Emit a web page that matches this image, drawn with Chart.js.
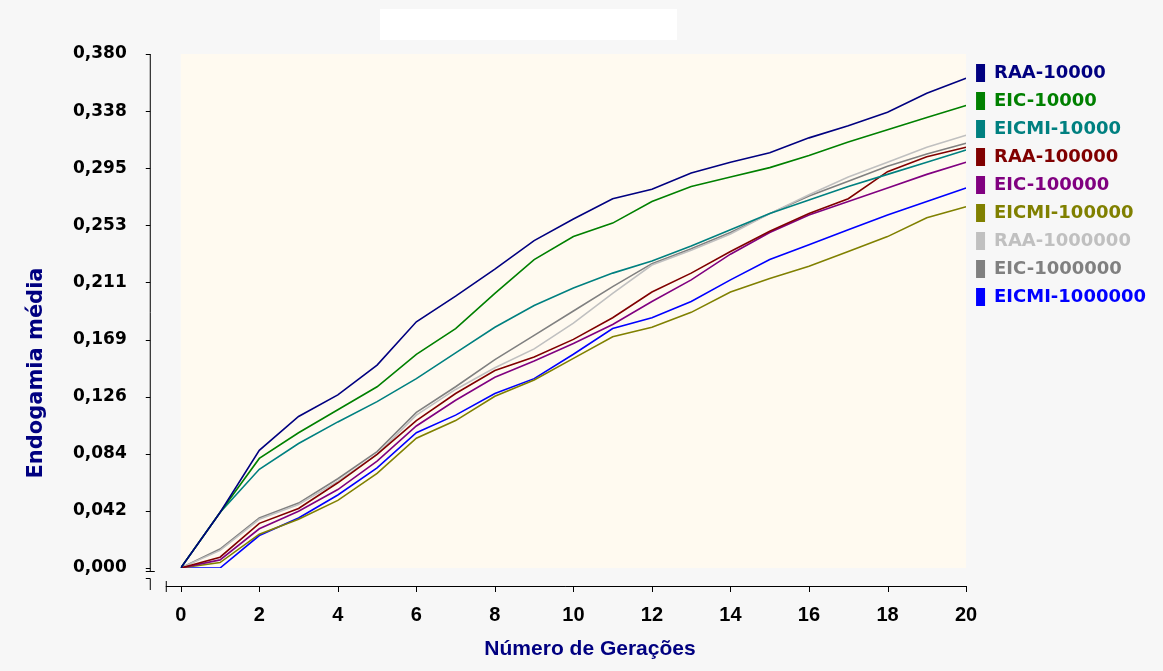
<!DOCTYPE html>
<html>
<head>
<meta charset="utf-8">
<script src="https://cdn.jsdelivr.net/npm/chart.js@4/dist/chart.umd.min.js"></script>
<style>
  body { margin: 0; background: #f7f7f7; }
  #grafico { display: block; }
</style>
</head>
<body>
<canvas id="grafico" width="1163" height="671"></canvas>
<script>
// dados
var geracoes = [0, 1, 2, 3, 4, 5, 6, 7, 8, 9, 10, 11, 12, 13, 14, 15, 16, 17, 18, 19, 20];

var raa10000 = [0, 0.041, 0.087, 0.112, 0.128, 0.150, 0.182, 0.201, 0.221, 0.242, 0.258, 0.273, 0.280, 0.292, 0.300, 0.307, 0.318, 0.327, 0.337, 0.351, 0.362];
var eic10000 = [0, 0.041, 0.081, 0.100, 0.117, 0.134, 0.158, 0.177, 0.203, 0.228, 0.245, 0.255, 0.271, 0.282, 0.289, 0.296, 0.305, 0.315, 0.324, 0.333, 0.342];
var eicmi10000 = [0, 0.041, 0.073, 0.092, 0.108, 0.123, 0.140, 0.159, 0.178, 0.194, 0.207, 0.218, 0.227, 0.238, 0.250, 0.262, 0.272, 0.282, 0.291, 0.300, 0.309];
var raa100000 = [0, 0.008, 0.033, 0.044, 0.063, 0.084, 0.109, 0.129, 0.146, 0.156, 0.169, 0.185, 0.204, 0.218, 0.234, 0.249, 0.262, 0.273, 0.293, 0.304, 0.311];
var eic100000 = [0, 0.006, 0.029, 0.042, 0.058, 0.079, 0.105, 0.124, 0.141, 0.153, 0.166, 0.180, 0.197, 0.213, 0.232, 0.248, 0.261, 0.271, 0.281, 0.291, 0.300];
var eicmi100000 = [0, 0.004, 0.025, 0.036, 0.050, 0.070, 0.096, 0.109, 0.127, 0.139, 0.155, 0.171, 0.178, 0.189, 0.204, 0.214, 0.223, 0.234, 0.245, 0.259, 0.267];
var raa1000000 = [0, 0.013, 0.036, 0.047, 0.064, 0.084, 0.113, 0.132, 0.148, 0.162, 0.181, 0.203, 0.224, 0.235, 0.247, 0.262, 0.276, 0.289, 0.300, 0.311, 0.320];
var eic1000000 = [0, 0.014, 0.037, 0.048, 0.066, 0.086, 0.115, 0.134, 0.154, 0.172, 0.190, 0.208, 0.225, 0.236, 0.248, 0.262, 0.275, 0.286, 0.297, 0.306, 0.314];
var eicmi1000000 = [0, 0, 0.024, 0.037, 0.054, 0.074, 0.100, 0.113, 0.129, 0.140, 0.158, 0.177, 0.185, 0.197, 0.213, 0.228, 0.239, 0.250, 0.261, 0.271, 0.281];

var nomesSeries = ["RAA-10000", "EIC-10000", "EICMI-10000", "RAA-100000", "EIC-100000", "EICMI-100000", "RAA-1000000", "EIC-1000000", "EICMI-1000000"];
var valoresSeries = [raa10000, eic10000, eicmi10000, raa100000, eic100000, eicmi100000, raa1000000, eic1000000, eicmi1000000];
var coresSeries = ["#000080", "#008000", "#008080", "#800000", "#800080", "#808000", "#c0c0c0", "#808080", "#0000ff"];

var yTickValores = [0, 0.0422, 0.0844, 0.1267, 0.1689, 0.2111, 0.2533, 0.2956, 0.3378, 0.38];
var yTickTextos = ["0,000", "0,042", "0,084", "0,126", "0,169", "0,211", "0,253", "0,295", "0,338", "0,380"];

var tituloX = "Número de Gerações";
var tituloY = "Endogamia média";

var datasets = valoresSeries.map(function (vals, i) {
  return {
    label: nomesSeries[i],
    data: vals.map(function (v, j) { return { x: geracoes[j], y: v }; }),
    borderColor: coresSeries[i],
    backgroundColor: coresSeries[i],
    borderWidth: 1.6,
    pointRadius: 0,
    tension: 0
  };
});

// fundo creme, eixos destacados e titulos
var extras = {
  id: "extras",
  beforeDraw: function (chart) {
    var ctx = chart.ctx, a = chart.chartArea;
    ctx.save();
    ctx.fillStyle = "#f7f7f7";
    ctx.fillRect(0, 0, chart.width, chart.height);
    ctx.fillStyle = "#ffffff";
    ctx.fillRect(380, 9, 297, 31);
    ctx.fillStyle = "#fffaf0";
    ctx.fillRect(a.left, a.top, a.right - a.left, a.bottom - a.top);
    ctx.restore();
  },
  afterDraw: function (chart) {
    var ctx = chart.ctx, a = chart.chartArea;
    var xs = chart.scales.x, ys = chart.scales.y;
    var eixoX = a.left - 31, eixoY = a.bottom + 18;
    ctx.save();
    ctx.strokeStyle = "#000";
    ctx.lineWidth = 1;
    ctx.beginPath();
    // eixo y
    ctx.moveTo(eixoX + 0.5, a.top);
    ctx.lineTo(eixoX + 0.5, a.bottom + 3);
    ctx.moveTo(eixoX - 4, a.bottom + 3.5);
    ctx.lineTo(eixoX + 5, a.bottom + 3.5);
    ys.ticks.forEach(function (t) {
      var py = Math.round(ys.getPixelForValue(t.value)) + 0.5;
      ctx.moveTo(eixoX - 4, py);
      ctx.lineTo(eixoX + 0.5, py);
    });
    // quebra
    ctx.moveTo(eixoX - 4, a.bottom + 10.5);
    ctx.lineTo(eixoX + 0.5, a.bottom + 10.5);
    ctx.lineTo(eixoX + 0.5, a.bottom + 22);
    // eixo x
    ctx.moveTo(a.left - 15 + 0.5, eixoY - 5);
    ctx.lineTo(a.left - 15 + 0.5, eixoY + 6);
    ctx.moveTo(a.left - 15, eixoY + 0.5);
    ctx.lineTo(a.right, eixoY + 0.5);
    xs.ticks.forEach(function (t) {
      var px = Math.round(xs.getPixelForValue(t.value)) + 0.5;
      ctx.moveTo(px, eixoY);
      ctx.lineTo(px, eixoY + 6);
    });
    ctx.stroke();

    ctx.fillStyle = "#000080";
    ctx.font = "bold 21px 'Liberation Sans'";
    ctx.textAlign = "center";
    ctx.textBaseline = "middle";
    ctx.fillText(tituloX, 590, 649);

    ctx.translate(37, 373);
    ctx.rotate(-Math.PI / 2);
    ctx.font = "bold 21px 'DejaVu Sans'";
    ctx.fillText(tituloY, 0, 0);
    ctx.restore();
  }
};

new Chart("grafico", {
  type: "line",
  data: { datasets: datasets },
  plugins: [extras],
  options: {
    responsive: false,
    animation: false,
    devicePixelRatio: 1,
    layout: { padding: { left: 19, top: 54, right: 7, bottom: 9 } },
    plugins: {
      tooltip: { enabled: false },
      legend: {
        position: "right",
        align: "start",
        labels: {
          boxWidth: 9,
          boxHeight: 18,
          padding: 10,
          font: { family: "'DejaVu Sans'", size: 18, weight: "bold" },
          generateLabels: function (chart) {
            var itens = Chart.defaults.plugins.legend.labels.generateLabels(chart);
            itens.forEach(function (it, i) {
              it.fontColor = coresSeries[i];
              it.fillStyle = coresSeries[i];
              it.strokeStyle = coresSeries[i];
              it.lineWidth = 0;
            });
            return itens;
          }
        }
      }
    },
    scales: {
      x: {
        type: "linear",
        min: 0,
        max: 20,
        grid: { display: false, drawTicks: false },
        border: { display: false },
        ticks: {
          stepSize: 2,
          padding: 35,
          color: "#000",
          font: { family: "'Liberation Sans'", size: 20, weight: "bold" }
        }
      },
      y: {
        min: 0,
        max: 0.38,
        grid: { display: false, drawTicks: false },
        border: { display: false },
        afterBuildTicks: function (axis) {
          axis.ticks = yTickValores.map(function (v) { return { value: v }; });
        },
        afterFit: function (axis) {
          axis.paddingTop = 10;
          axis.paddingBottom = 10;
        },
        ticks: {
          padding: 54,
          color: "#000",
          font: { family: "'DejaVu Sans'", size: 17, weight: "bold" },
          callback: function (value, index) { return yTickTextos[index]; }
        }
      }
    }
  }
});
</script>
</body>
</html>
